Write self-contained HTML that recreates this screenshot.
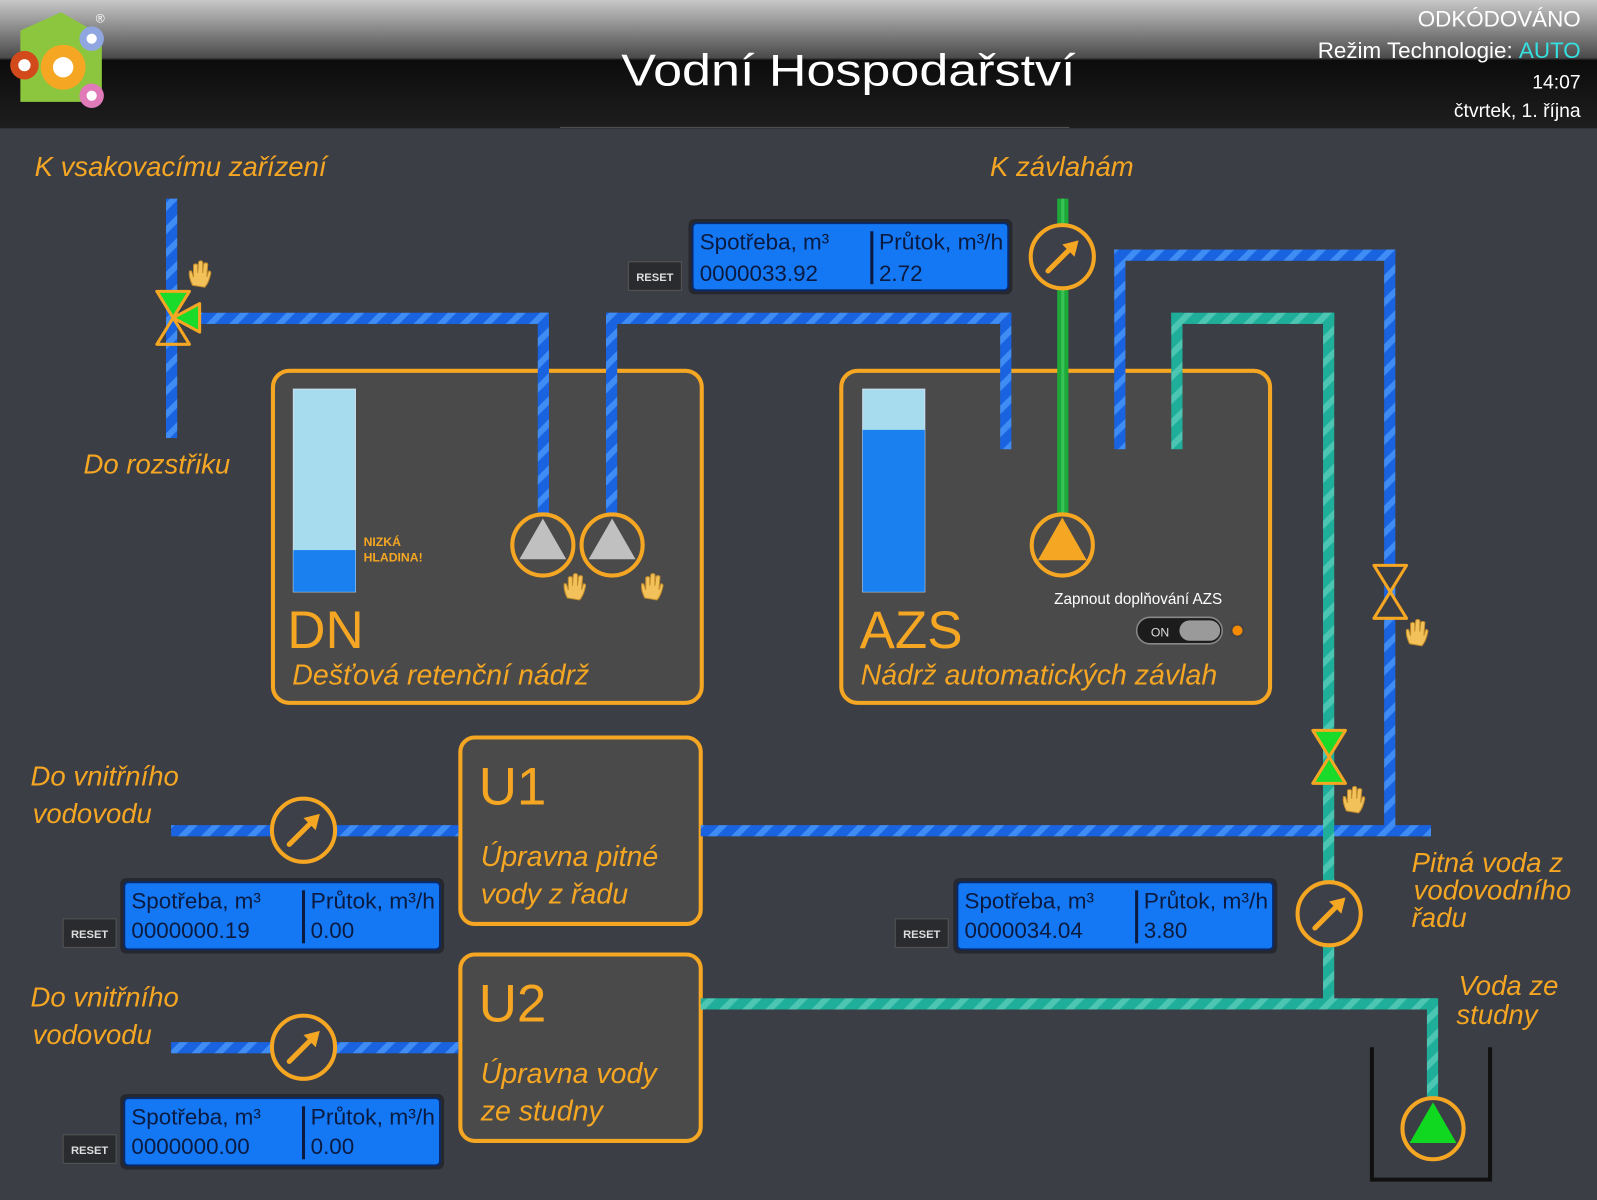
<!DOCTYPE html>
<html><head><meta charset="utf-8"><style>
html,body{margin:0;padding:0;background:#3b3e45;overflow:hidden}
svg{display:block}
text{font-family:"Liberation Sans",sans-serif}
.lbl{fill:#f5a623;font-style:italic;font-size:27px}
.dsp{fill:#0a1a40;font-size:22px}
.big{fill:#f5a623;font-size:52px}
.sub{fill:#f5a623;font-style:italic;font-size:28px}
</style></head><body>
<svg width="1597" height="1200" viewBox="0 0 1568 1178" preserveAspectRatio="none" xmlns="http://www.w3.org/2000/svg">
<defs>
<linearGradient id="hdr" x1="0" y1="0" x2="0" y2="1">
<stop offset="0" stop-color="#c8c8c8"/><stop offset="0.45" stop-color="#4a4a4a"/><stop offset="0.47" stop-color="#0c0c0c"/><stop offset="1" stop-color="#1e1e1e"/>
</linearGradient>
<pattern id="pb" width="16" height="16" patternUnits="userSpaceOnUse" patternTransform="rotate(45)">
<rect width="16" height="16" fill="#1a63e0"/><rect width="6" height="16" fill="#3f8cf5"/></pattern>
<pattern id="pt" width="16" height="16" patternUnits="userSpaceOnUse" patternTransform="rotate(45)">
<rect width="16" height="16" fill="#1fae9a"/><rect width="6" height="16" fill="#4cc6b3"/></pattern>
<g id="meter"><circle r="31" fill="#3d4048" stroke="#f5a623" stroke-width="4"/><line x1="-14" y1="14" x2="10" y2="-10" stroke="#f5a623" stroke-width="5" stroke-linecap="round"/><polygon points="16,-16 0,-12 12,0" fill="#f5a623"/></g>
<g id="hand"><path d="M-6,10 Q-10,2 -9,-4 L-7,-4 L-5,2 L-5,-10 Q-3,-12 -1,-10 L-1,-2 L0,-13 Q2,-15 4,-13 L4,-2 L5,-11 Q7,-13 9,-11 L8,2 L10,-4 Q12,-4 12,-2 Q10,8 6,12 Z" fill="#f2c15a" stroke="#c08a2a" stroke-width="1"/></g>
<g id="disp"><rect x="-4" y="-4" width="318" height="74" rx="6" fill="#26282d"/><rect width="310" height="66" rx="4" fill="#1478f5" stroke="#0a2a6a" stroke-width="2"/><line x1="176" y1="8" x2="176" y2="60" stroke="#0a1a40" stroke-width="3"/></g>
<g id="reset"><rect width="52" height="28" fill="#2a2b2e" stroke="#555" stroke-width="1"/><text x="26" y="19" font-size="11" font-weight="bold" fill="#ddd" text-anchor="middle">RESET</text></g>
</defs>
<rect width="1568" height="1178" fill="#3b3e45"/>
<rect width="1568" height="126" fill="url(#hdr)"/>
<line x1="550" y1="125" x2="1050" y2="125" stroke="#555" stroke-width="1"/>
<polygon points="20,30 60,12 100,35 100,100 20,100" fill="#8cc63f"/>
<circle cx="62" cy="66" r="22" fill="#f5a623"/><circle cx="62" cy="66" r="10" fill="#fff"/>
<circle cx="24" cy="64" r="14" fill="#d24a1b"/><circle cx="24" cy="64" r="6" fill="#fff"/>
<circle cx="90" cy="38" r="12" fill="#8fa6e0"/><circle cx="90" cy="38" r="5" fill="#fff"/>
<circle cx="90" cy="94" r="12" fill="#e07ab8"/><circle cx="90" cy="94" r="5" fill="#fff"/>
<text x="94" y="22" font-size="12" fill="#fff">®</text>
<text x="610" y="84" font-size="44" fill="#fff" textLength="446" lengthAdjust="spacingAndGlyphs">Vodní Hospodařství</text>
<text x="1552" y="26" font-size="22" fill="#fff" text-anchor="end">ODKÓDOVÁNO</text>
<text x="1552" y="57" font-size="22" fill="#fff" text-anchor="end">Režim Technologie: <tspan fill="#35e0e0">AUTO</tspan></text>
<text x="1552" y="87" font-size="19" fill="#fff" text-anchor="end">14:07</text>
<text x="1552" y="115" font-size="19" fill="#fff" text-anchor="end">čtvrtek, 1. října</text>

<rect x="268" y="364" width="421" height="326" rx="16" fill="#4a4a4a" stroke="#f5a623" stroke-width="4"/>
<rect x="826" y="364" width="421" height="326" rx="16" fill="#4a4a4a" stroke="#f5a623" stroke-width="4"/>
<rect x="452" y="724" width="236" height="183" rx="14" fill="#4a4a4a" stroke="#f5a623" stroke-width="4"/>
<rect x="452" y="937" width="236" height="183" rx="14" fill="#4a4a4a" stroke="#f5a623" stroke-width="4"/>

<g fill="url(#pb)">
<rect x="163" y="195" width="11" height="235"/>
<rect x="190" y="307" width="348" height="11"/>
<rect x="528" y="307" width="11" height="198"/>
<rect x="595" y="307" width="11" height="198"/>
<rect x="595" y="307" width="398" height="11"/>
<rect x="982" y="307" width="11" height="134"/>
<rect x="1094" y="245" width="11" height="196"/>
<rect x="1094" y="245" width="276" height="11"/>
<rect x="1359" y="245" width="11" height="570"/>
<rect x="168" y="810" width="282" height="11"/>
<rect x="688" y="810" width="717" height="11"/>
<rect x="168" y="1023" width="282" height="11"/>
</g>
<g fill="url(#pt)">
<rect x="1150" y="307" width="11" height="134"/>
<rect x="1150" y="307" width="160" height="11"/>
<rect x="1299" y="307" width="11" height="684"/>
<rect x="688" y="980" width="722" height="11"/>
<rect x="1401" y="980" width="11" height="100"/>
</g>
<rect x="1038" y="195" width="11" height="310" fill="#1fa83a"/>
<rect x="1042" y="195" width="3" height="310" fill="#38c455"/>

<rect x="288" y="382" width="61" height="199" fill="#a6dced" stroke="#cde" stroke-width="1"/>
<rect x="288" y="540" width="61" height="41" fill="#1a80f0"/>
<rect x="847" y="382" width="61" height="199" fill="#a6dced" stroke="#cde" stroke-width="1"/>
<rect x="847" y="422" width="61" height="159" fill="#1a80f0"/>
<text x="357" y="536" font-size="12" font-weight="bold" fill="#f5a623">NIZKÁ</text>
<text x="357" y="551" font-size="12" font-weight="bold" fill="#f5a623">HLADINA!</text>

<circle cx="533" cy="535" r="30" fill="#4a4a4a" stroke="#f5a623" stroke-width="4"/>
<polygon points="533,509 510,549 556,549" fill="#c0c0c0"/>
<circle cx="601" cy="535" r="30" fill="#4a4a4a" stroke="#f5a623" stroke-width="4"/>
<polygon points="601,509 578,549 624,549" fill="#c0c0c0"/>
<circle cx="1043" cy="535" r="30" fill="#4a4a4a" stroke="#f5a623" stroke-width="4"/>
<polygon points="1043,508 1019,550 1067,550" fill="#f5a623"/>
<path d="M1347,1028 V1158 H1463 V1028" fill="none" stroke="#111" stroke-width="4"/>
<circle cx="1407" cy="1108" r="30" fill="#3b3e45" stroke="#f5a623" stroke-width="4"/>
<polygon points="1407,1082 1384,1122 1430,1122" fill="#10d820"/>
<use href="#hand" x="563" y="577"/><use href="#hand" x="639" y="577"/>

<polygon points="154,286 186,286 170,312" fill="#1adb2a" stroke="#f5a623" stroke-width="3" stroke-linejoin="round"/>
<polygon points="154,338 186,338 170,312" fill="none" stroke="#f5a623" stroke-width="3" stroke-linejoin="round"/>
<polygon points="170,312 196,298 196,326" fill="#1adb2a" stroke="#f5a623" stroke-width="3" stroke-linejoin="round"/>
<use href="#hand" x="195" y="270"/>
<polygon points="1349,555 1381,555 1365,581 1349,607 1381,607 1365,581" fill="#3b3e45" stroke="#f5a623" stroke-width="3" stroke-linejoin="round"/>
<use href="#hand" x="1390" y="622"/>
<polygon points="1289,717 1321,717 1305,743 1289,769 1321,769 1305,743" fill="#1adb2a" stroke="#f5a623" stroke-width="3" stroke-linejoin="round"/>
<use href="#hand" x="1328" y="786"/>

<use href="#meter" x="1043" y="252"/>
<use href="#meter" x="298" y="815"/>
<use href="#meter" x="298" y="1028"/>
<use href="#meter" x="1305" y="897"/>

<use href="#disp" x="680" y="219"/>
<text class="dsp" x="687" y="245">Spotřeba, m³</text><text class="dsp" x="687" y="276">0000033.92</text>
<text class="dsp" x="863" y="245" textLength="122" lengthAdjust="spacingAndGlyphs">Průtok, m³/h</text><text class="dsp" x="863" y="276">2.72</text>
<use href="#reset" x="617" y="257"/>
<use href="#disp" x="122" y="866"/>
<text class="dsp" x="129" y="892">Spotřeba, m³</text><text class="dsp" x="129" y="921">0000000.19</text>
<text class="dsp" x="305" y="892" textLength="122" lengthAdjust="spacingAndGlyphs">Průtok, m³/h</text><text class="dsp" x="305" y="921">0.00</text>
<use href="#reset" x="62" y="902"/>
<use href="#disp" x="122" y="1078"/>
<text class="dsp" x="129" y="1104">Spotřeba, m³</text><text class="dsp" x="129" y="1133">0000000.00</text>
<text class="dsp" x="305" y="1104" textLength="122" lengthAdjust="spacingAndGlyphs">Průtok, m³/h</text><text class="dsp" x="305" y="1133">0.00</text>
<use href="#reset" x="62" y="1114"/>
<use href="#disp" x="940" y="866"/>
<text class="dsp" x="947" y="892">Spotřeba, m³</text><text class="dsp" x="947" y="921">0000034.04</text>
<text class="dsp" x="1123" y="892" textLength="122" lengthAdjust="spacingAndGlyphs">Průtok, m³/h</text><text class="dsp" x="1123" y="921">3.80</text>
<use href="#reset" x="879" y="902"/>

<text x="1035" y="593" font-size="15" fill="#fff">Zapnout doplňování AZS</text>
<rect x="1116" y="606" width="84" height="26" rx="13" fill="#1c1c1c" stroke="#888" stroke-width="1.5"/>
<text x="1130" y="625" font-size="12" fill="#ddd">ON</text>
<rect x="1158" y="609" width="40" height="20" rx="10" fill="#9a9a9a"/>
<circle cx="1215" cy="619" r="6" fill="#f58a00" stroke="#444" stroke-width="2"/>

<text class="lbl" x="34" y="173">K vsakovacímu zařízení</text>
<text class="lbl" x="972" y="173">K závlahám</text>
<text class="lbl" x="82" y="465">Do rozstřiku</text>
<text class="lbl" x="30" y="771">Do vnitřního</text><text class="lbl" x="32" y="808">vodovodu</text>
<text class="lbl" x="30" y="988">Do vnitřního</text><text class="lbl" x="32" y="1025">vodovodu</text>
<text class="lbl" x="1386" y="856">Pitná voda  z</text><text class="lbl" x="1388" y="883">vodovodního</text><text class="lbl" x="1386" y="910">řadu</text>
<text class="lbl" x="1432" y="977">Voda ze</text><text class="lbl" x="1430" y="1005">studny</text>
<text class="big" x="282" y="636">DN</text>
<text class="sub" x="287" y="672">Dešťová retenční nádrž</text>
<text class="big" x="844" y="636">AZS</text>
<text class="sub" x="845" y="672">Nádrž automatických závlah</text>
<text class="big" x="470" y="790">U1</text>
<text class="sub" x="472" y="850">Úpravna pitné</text><text class="sub" x="472" y="887">vody z řadu</text>
<text class="big" x="470" y="1003">U2</text>
<text class="sub" x="472" y="1063">Úpravna vody</text><text class="sub" x="472" y="1100">ze studny</text>
</svg>
</body></html>
